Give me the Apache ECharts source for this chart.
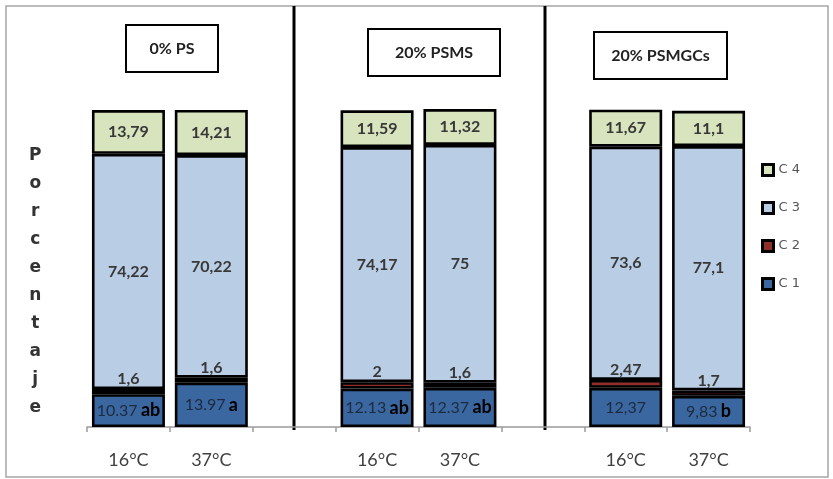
<!DOCTYPE html>
<html>
<head>
<meta charset="utf-8">
<script src="https://cdn.jsdelivr.net/npm/echarts@6/dist/echarts.min.js"></script>
<style>
  html, body { margin: 0; padding: 0; background: #fff; }
  #chart { width: 833px; height: 479px; }
</style>
</head>
<body>
<div id="chart"></div>
<script>
// Temperature categories; empty slots separate the three treatment panels
const categories = ['16°C', '37°C', '', '16°C', '37°C', '', '16°C', '37°C'];

// Panel headings (one per treatment)
const panelTitles = ['0% PS', '20% PSMS', '20% PSMGCs'];

// Fractions (%) per bar, bottom to top: C 1, C 2, C 3, C 4
const c1Text = ['10.37', '13.97', null, '12.13', '12.37', null, '12,37', '9,83'];
const c1Letters = ['ab', 'a', '', 'ab', 'ab', '', '', 'b'];
const c2 = [1.6, 1.6, null, 2, 1.6, null, 2.47, 1.7];
const c3 = [74.22, 70.22, null, 74.17, 75, null, 73.6, 77.1];
const c4 = [13.79, 14.21, null, 11.59, 11.32, null, 11.67, 11.1];

const legendOrder = ['C 4', 'C 3', 'C 2', 'C 1'];

const c1 = c1Text.map(t => (t === null ? null : parseFloat(t.replace(',', '.'))));

const colors = {
  'C 1': '#3b67a1',
  'C 2': '#8e2f2c',
  'C 3': '#b9cde5',
  'C 4': '#d7e4bd'
};

const comma = v => String(v).replace('.', ',');

const labelFont = {
  fontFamily: 'Lato, "Open Sans", sans-serif',
  fontSize: 16,
  fontWeight: 'bold',
  color: '#383838'
};

function stackSeries(name, data, label) {
  return {
    name: name,
    type: 'bar',
    stack: 'total',
    barWidth: 73,
    data: data,
    itemStyle: { color: colors[name], borderColor: '#000', borderWidth: 2.6 },
    label: label,
    emphasis: { disabled: true }
  };
}

const chart = echarts.init(document.getElementById('chart'), null, { renderer: 'canvas' });

// Panel headings drawn as boxed texts
const titleBoxes = [
  { x: 126, y: 25, w: 92, h: 47 },
  { x: 368, y: 29, w: 132, h: 47 },
  { x: 594, y: 32, w: 133, h: 47 }
];

const graphics = [
  // outer frame
  { type: 'rect', shape: { x: 6, y: 6, width: 822, height: 471 },
    style: { fill: 'none', stroke: '#a6a6a6', lineWidth: 1.5 }, silent: true },
  // panel separators
  { type: 'line', shape: { x1: 294, y1: 6, x2: 294, y2: 430 },
    style: { stroke: '#000', lineWidth: 3 }, silent: true },
  { type: 'line', shape: { x1: 545, y1: 6, x2: 545, y2: 430 },
    style: { stroke: '#000', lineWidth: 3 }, silent: true },
  // vertical axis title, one letter per line
  { type: 'text', left: 29, top: 142,
    style: { text: 'Porcentaje'.split('').join('\n'), fill: '#333', font: 'bold 17px "DejaVu Sans", sans-serif',
             lineHeight: 28, textAlign: 'center' }, silent: true }
];
panelTitles.forEach((t, i) => {
  const b = titleBoxes[i];
  graphics.push({ type: 'rect', shape: { x: b.x, y: b.y, width: b.w, height: b.h },
    style: { fill: '#fff', stroke: '#000', lineWidth: 2 }, silent: true });
  graphics.push({ type: 'text', x: b.x + b.w / 2, y: b.y + b.h / 2,
    style: { text: t, fill: '#222', font: 'bold 16px Lato, sans-serif',
             textAlign: 'center', textVerticalAlign: 'middle' }, silent: true });
});

const option = {
  animation: false,
  backgroundColor: '#fff',
  grid: { left: 87, right: 83, top: 110, bottom: 52 },
  legend: {
    data: legendOrder,
    orient: 'vertical',
    left: 756,
    top: 158,
    itemWidth: 11,
    itemHeight: 11,
    itemGap: 24,
    icon: 'rect',
    itemStyle: { borderColor: '#000', borderWidth: 3 },
    textStyle: { fontFamily: '"DejaVu Sans", sans-serif', fontSize: 13, color: '#555' },
    formatter: n => n.split('').join(' ').replace('   ', ' '),
    selectedMode: false
  },
  xAxis: {
    type: 'category',
    data: categories,
    axisLine: { lineStyle: { color: '#9a9a9a', width: 1.5 } },
    axisTick: { show: true, length: 5, lineStyle: { color: '#9a9a9a', width: 1.5 } },
    axisLabel: { margin: 24, fontSize: 18, color: '#404040', fontFamily: 'Lato, sans-serif' }
  },
  yAxis: { type: 'value', min: 0, max: 100, show: false },
  series: [
    stackSeries('C 1', c1, {
      show: true, position: 'inside',
      formatter: p => {
        const i = p.dataIndex;
        const l = c1Letters[i];
        return '{n|' + c1Text[i] + '}' + (l ? ' {l|' + l + '}' : '');
      },
      rich: {
        n: { fontFamily: 'Lato, sans-serif', fontSize: 16, color: '#1c2a3e' },
        l: { fontFamily: 'Lato, sans-serif', fontSize: 18, fontWeight: 'bold', color: '#000' }
      }
    }),
    stackSeries('C 2', c2, Object.assign({
      show: true, position: 'top', distance: 2,
      formatter: p => comma(p.value)
    }, labelFont)),
    stackSeries('C 3', c3, Object.assign({
      show: true, position: 'inside',
      formatter: p => comma(p.value)
    }, labelFont)),
    stackSeries('C 4', c4, Object.assign({
      show: true, position: 'inside',
      formatter: p => comma(p.value)
    }, labelFont))
  ],
  graphic: graphics
};

chart.setOption(option);
</script>
</body>
</html>
